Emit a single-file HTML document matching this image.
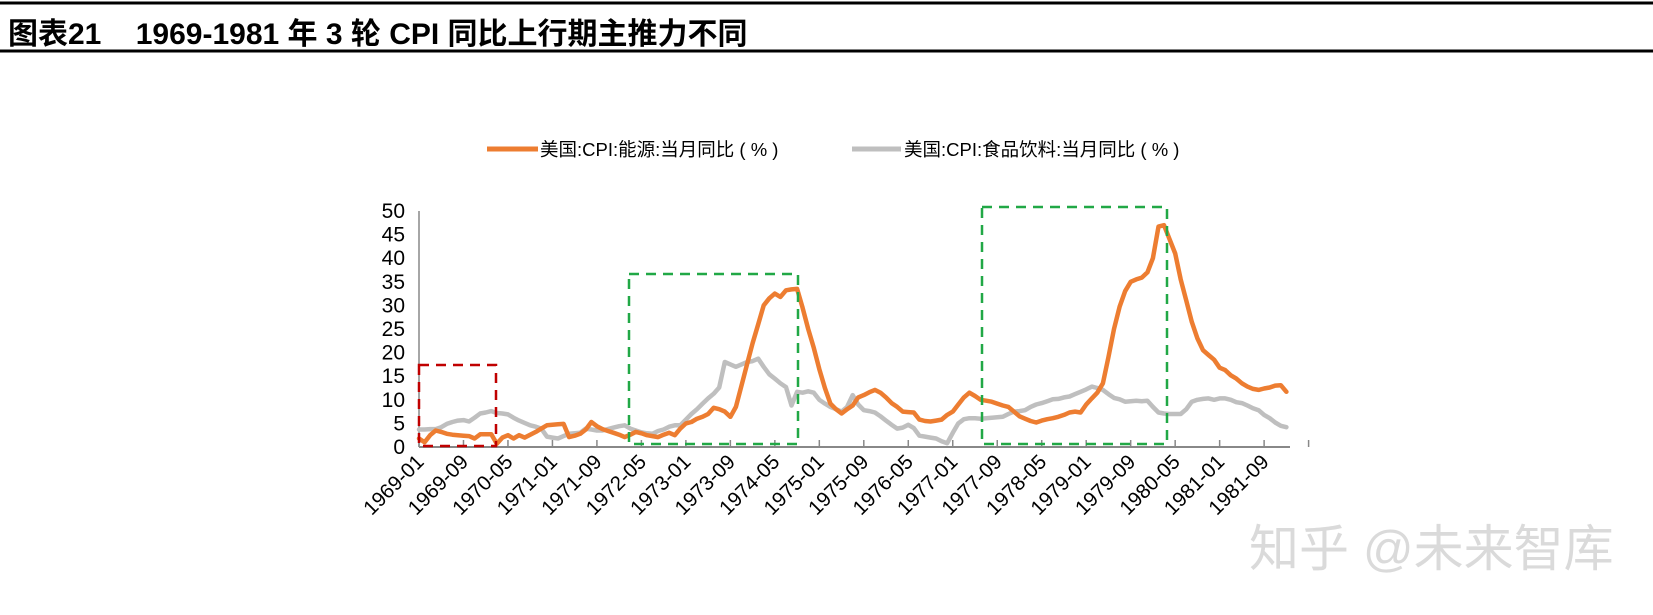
<!DOCTYPE html>
<html><head><meta charset="utf-8"><style>
html,body{margin:0;padding:0;background:#fff;}
body{width:1653px;height:615px;overflow:hidden;position:relative;font-family:"Liberation Sans","Noto Sans CJK SC",sans-serif;}
</style></head><body>
<svg id="chart" width="1653" height="615" xmlns="http://www.w3.org/2000/svg" style="position:absolute;left:0;top:0">
<line x1="0" y1="3" x2="1653" y2="3" stroke="#000" stroke-width="3"/>
<text x="8" y="44" font-size="30" font-weight="bold" font-family="Liberation Sans, Noto Sans CJK SC, sans-serif">图表21<tspan dx="36">1969-1981 年 3 轮 CPI 同比上行期主推力不同</tspan></text>
<line x1="0" y1="51" x2="1653" y2="51" stroke="#000" stroke-width="3"/>
<g font-size="18.5" font-family="Liberation Sans, Noto Sans CJK SC, sans-serif">
<line x1="487" y1="149" x2="538" y2="149" stroke="#ED7D31" stroke-width="5"/>
<text x="540" y="156">美国:CPI:能源:当月同比 ( % )</text>
<line x1="852" y1="149" x2="901" y2="149" stroke="#BFBFBF" stroke-width="5"/>
<text x="904" y="156">美国:CPI:食品饮料:当月同比 ( % )</text>
</g>
<g id="plot"></g>
<text x="1249" y="566" font-size="50" fill="#dadada" font-family="Liberation Sans, Noto Sans CJK SC, sans-serif">知乎 @未来智库</text>
</svg>
<script>
const tickLabels = ["1969-01","1969-09","1970-05","1971-01","1971-09","1972-05","1973-01","1973-09","1974-05","1975-01","1975-09","1976-05","1977-01","1977-09","1978-05","1979-01","1979-09","1980-05","1981-01","1981-09"];
const yTicks = [0,5,10,15,20,25,30,35,40,45,50];
const energy = [1.8,1.0,2.5,3.5,3.2,2.8,2.6,2.5,2.4,2.3,1.8,2.7,2.7,2.7,0.7,2.0,2.5,1.8,2.5,2.0,2.6,3.2,3.9,4.6,4.7,4.8,4.9,2.1,2.4,2.8,3.7,5.3,4.4,3.8,3.4,3.0,2.6,2.1,2.6,3.2,2.9,2.5,2.3,2.1,2.6,3.0,2.5,3.9,5.0,5.3,6.0,6.4,7.0,8.3,8.0,7.5,6.4,8.5,13.0,17.5,22.0,26.0,30.0,31.5,32.5,31.8,33.2,33.4,33.5,29.5,25.0,21.0,16.5,12.5,9.2,8.0,7.1,8.0,8.8,10.5,11.0,11.6,12.1,11.5,10.5,9.3,8.5,7.5,7.4,7.3,5.8,5.5,5.4,5.6,5.8,6.8,7.5,9.0,10.5,11.5,10.8,10.0,9.8,9.6,9.2,8.8,8.5,7.5,6.5,6.0,5.5,5.2,5.6,5.9,6.1,6.4,6.8,7.3,7.5,7.3,9.0,10.3,11.5,13.5,19.0,25.0,29.7,33.0,35.0,35.5,35.9,37.0,40.0,46.7,47.0,44.0,41.0,35.5,31.0,26.5,23.0,20.5,19.5,18.5,16.8,16.3,15.2,14.5,13.5,12.8,12.3,12.1,12.4,12.6,13.0,13.1,11.7];
const food = [3.7,3.7,3.8,3.8,4.2,4.9,5.3,5.6,5.7,5.4,6.2,7.1,7.3,7.6,7.2,7.1,6.9,6.2,5.6,5.1,4.6,4.3,3.9,2.2,2.0,1.8,2.3,2.8,2.9,3.0,3.9,3.7,3.5,3.5,3.8,4.1,4.4,4.6,3.9,3.5,3.1,2.9,2.8,3.4,3.7,4.3,4.6,4.6,5.8,7.0,8.0,9.2,10.3,11.3,12.6,18.0,17.5,17.0,17.5,18.0,18.2,18.7,17.0,15.4,14.5,13.5,12.7,8.8,11.7,11.5,11.8,11.5,10.0,9.2,8.5,8.0,7.5,8.5,11.0,9.0,7.8,7.6,7.3,6.5,5.6,4.7,3.9,4.1,4.7,4.0,2.4,2.2,2.0,1.8,1.2,0.8,3.0,5.0,5.9,6.1,6.1,6.0,6.1,6.2,6.3,6.4,7.0,7.5,7.6,7.8,8.5,9.0,9.3,9.7,10.1,10.2,10.5,10.7,11.2,11.7,12.2,12.8,12.5,12.1,11.2,10.4,10.1,9.6,9.7,9.8,9.7,9.8,8.5,7.3,7.1,7.0,7.0,7.0,8.0,9.6,10.0,10.2,10.3,10.0,10.3,10.3,10.0,9.5,9.3,8.8,8.2,7.8,6.8,6.1,5.2,4.5,4.2];
const NS="http://www.w3.org/2000/svg";
const X0=419, MSTEP=5.56, Y0=447, YTOP=211, YMAX=50;
function xScale(i){return X0+i*MSTEP;}
function yScale(v){return Y0-(v/YMAX)*(Y0-YTOP);}
const plot=document.getElementById('plot');
function mk(tag,attrs){const e=document.createElementNS(NS,tag);for(const k in attrs)e.setAttribute(k,attrs[k]);plot.appendChild(e);return e;}
let ya=mk('line',{x1:X0,y1:YTOP,x2:X0,y2:Y0,stroke:'#888','stroke-width':1.5});


yTicks.forEach(v=>{
  const t=mk('text',{x:405,y:yScale(v)+7,'text-anchor':'end','font-size':21,fill:'#000'});
  t.textContent=v;
  
  
});
let xa=mk('line',{x1:X0,y1:Y0,x2:1290,y2:Y0,stroke:'#888','stroke-width':2});


for(let k=0;k<=tickLabels.length;k++){
  const x=xScale(k*8);
  const tk=mk('line',{x1:x,y1:Y0,x2:x,y2:Y0-7,stroke:'#888','stroke-width':1.5});
  
  
}
tickLabels.forEach((lab,k)=>{
  const x=xScale(k*8)+6, y=Y0+16;
  const t=mk('text',{x:x,y:y,'text-anchor':'end','font-size':20.5,fill:'#000',transform:`rotate(-45 ${x} ${y})`});
  t.textContent=lab;
  
  
});
function box(x1,y1,x2,y2,c,name){
  const r=mk('rect',{x:x1,y:y1,width:x2-x1,height:y2-y1,fill:'none',stroke:c,'stroke-width':2.5,'stroke-dasharray':'10 7'});
  
  
}
function series(arr,color,name){
  const d=arr.map((v,i)=>(i?'L':'M')+xScale(i).toFixed(1)+' '+yScale(v).toFixed(1)).join(' ');
  const p=mk('path',{d:d,fill:'none',stroke:color,'stroke-width':4.5,'stroke-linejoin':'round','stroke-linecap':'round'});
  
  
}
series(food,'#BFBFBF','food-series-line');
series(energy,'#ED7D31','energy-series-line');
box(419,365,496,446,'#C00000','highlight-box-1969');
box(629,274,798,444,'#21A846','highlight-box-1973');
box(982,207,1167,444,'#21A846','highlight-box-1979');
</script>
</body></html>
